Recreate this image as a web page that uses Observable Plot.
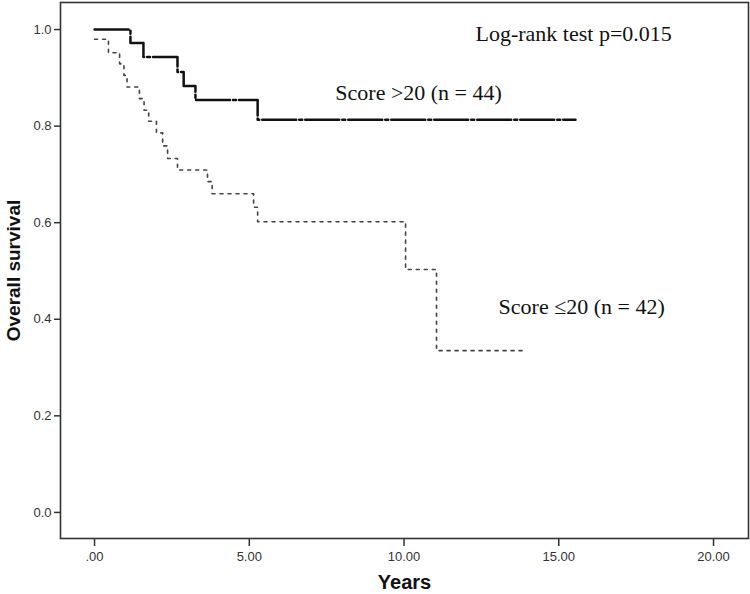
<!DOCTYPE html>
<html>
<head>
<meta charset="utf-8">
<script src="https://cdn.jsdelivr.net/npm/d3@7"></script>
<script src="https://cdn.jsdelivr.net/npm/@observablehq/plot@0.6"></script>
<style>
  html, body { margin: 0; padding: 0; background: #fff; }
</style>
</head>
<body>
<div id="chart"></div>
<script>
// Score >20 (n = 44) — Kaplan–Meier steps
const highTimes = [0, 1.16, 1.58, 2.68, 2.88, 3.26, 5.27, 15.54];
const highSurv  = [1.0, 0.972, 0.943, 0.912, 0.883, 0.854, 0.813, 0.813];

// Score ≤20 (n = 42) — Kaplan–Meier steps
const lowTimes = [0, 0.45, 0.81, 0.95, 1.05, 1.45, 1.6, 1.75, 2.0, 2.2, 2.36, 2.68, 3.65, 3.8, 5.14, 5.27, 10.05, 11.05, 13.93];
const lowSurv  = [0.98, 0.952, 0.929, 0.905, 0.881, 0.857, 0.833, 0.810, 0.786, 0.759, 0.733, 0.709, 0.685, 0.660, 0.632, 0.602, 0.503, 0.335, 0.335];

const xTicks = [0, 5, 10, 15, 20];
const yTicks = [0, 0.2, 0.4, 0.6, 0.8, 1.0];

const annotations = ["Log-rank test p=0.015", "Score >20 (n = 44)", "Score \u226420 (n = 42)"];
const annX = [15.48, 10.47, 15.74];
const annY = [0.991, 0.869, 0.426];

const high = highTimes.map((t, i) => ({t, s: highSurv[i]}));
const low = lowTimes.map((t, i) => ({t, s: lowSurv[i]}));
const ann = annotations.map((label, i) => ({label, x: annX[i], y: annY[i]}));

const chart = Plot.plot({
  width: 750,
  height: 594,
  marginLeft: 60,
  marginRight: 2,
  marginTop: 2,
  marginBottom: 56,
  style: {fontFamily: "'Liberation Sans', Arial, sans-serif", fontSize: "13px", color: "#333", background: "#fff"},
  x: {domain: [-1.1, 21.13], ticks: xTicks, tickFormat: d => d === 0 ? ".00" : d.toFixed(2), label: null},
  y: {domain: [-0.054, 1.056], ticks: yTicks, tickFormat: d => d.toFixed(1), label: null},
  marks: [
    Plot.frame({stroke: "#333", strokeWidth: 1.6}),
    Plot.axisX({ticks: xTicks, tickFormat: d => d === 0 ? ".00" : d.toFixed(2), tickSize: 8, tickPadding: 5, stroke: "#333", strokeWidth: 1.5, label: null}),
    Plot.axisY({ticks: yTicks, tickFormat: d => d.toFixed(1), tickSize: 6, tickPadding: 3, stroke: "#333", strokeWidth: 1.5, label: null}),
    Plot.line(low, {x: "t", y: "s", curve: "step-after", stroke: "#444", strokeWidth: 1.6, strokeDasharray: "3,5"}),
    Plot.line(high, {x: "t", y: "s", curve: "step-after", stroke: "#111", strokeWidth: 2.5, strokeDasharray: "34,3,3,3"}),
    Plot.text(ann, {x: "x", y: "y", text: "label", fontFamily: "'Liberation Serif', 'Times New Roman', serif", fontSize: 22, fill: "#111"}),
    Plot.text(["Years"], {frameAnchor: "bottom", dy: 50, fontWeight: "bold", fontSize: 20, fill: "#111"}),
    Plot.text(["Overall survival"], {frameAnchor: "left", textAnchor: "middle", dx: -47, rotate: -90, fontWeight: "bold", fontSize: 19, fill: "#111"})
  ]
});
document.getElementById("chart").appendChild(chart);
</script>
</body>
</html>
